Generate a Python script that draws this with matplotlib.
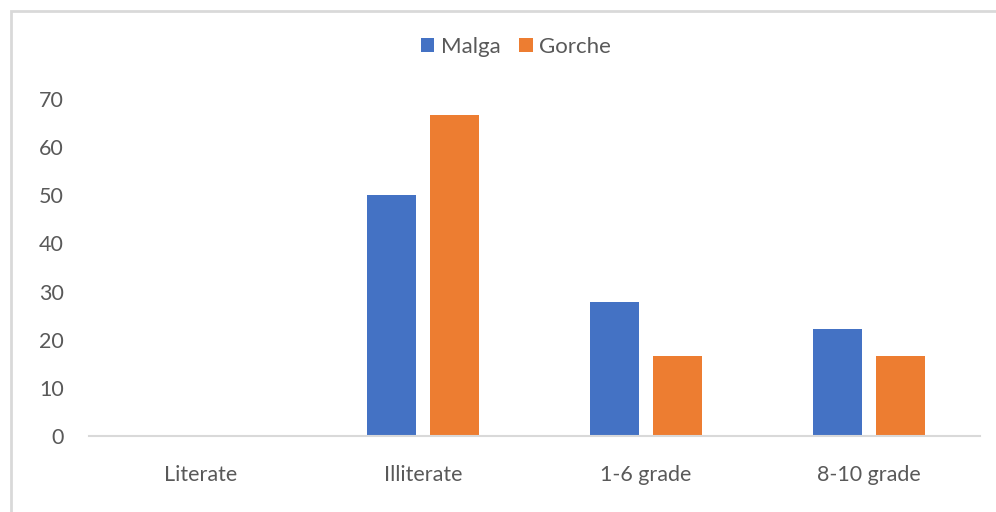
import numpy as np
import matplotlib
matplotlib.use('Agg')
import matplotlib.pyplot as plt
from matplotlib.patches import Rectangle

# data
categories = ['Literate', 'Illiterate', '1-6 grade', '8-10 grade']
malga = [0, 50, 27.8, 22.2]
gorche = [0, 66.7, 16.7, 16.7]
yticks = [0, 10, 20, 30, 40, 50, 60, 70]

blue = '#4472C4'
orange = '#ED7D31'
txt = '#595959'

plt.rcParams['font.family'] = ['Lato', 'DejaVu Sans']

fig = plt.figure(figsize=(9.96, 5.12), dpi=100)
W, H = 996, 512

# chart frame (runs off the right and bottom edges)
fig.patches.append(Rectangle((11 / W, -0.1), 1.2, 1 - 10.5 / H + 0.1,
                             transform=fig.transFigure, fill=False,
                             edgecolor='#D9D9D9', linewidth=2.0))

ax = fig.add_axes([89 / W, 1 - 436 / H, (980 - 89) / W, (436 - 99) / H])

x = np.arange(len(categories))
bw = 0.22
gap = 0.063
ax.bar(x - (bw + gap) / 2, malga, bw, color=blue, label='Malga')
ax.bar(x + (bw + gap) / 2, gorche, bw, color=orange, label='Gorche')

ax.set_xlim(-0.5, len(categories) - 0.5)
ax.set_ylim(0, 70)
ax.set_yticks(yticks)
ax.set_xticks(x)
ax.set_xticklabels(categories)

for s in ['top', 'right', 'left']:
    ax.spines[s].set_visible(False)
ax.spines['bottom'].set_color('#D9D9D9')
ax.spines['bottom'].set_linewidth(1.5)
ax.tick_params(axis='both', length=0, labelsize=15.5, colors=txt)
ax.tick_params(axis='y', pad=18)
ax.tick_params(axis='x', pad=21)

leg = fig.legend(loc='center', bbox_to_anchor=(516 / W, 1 - 47 / H), ncol=2,
                 frameon=False, fontsize=16, handlelength=0.6,
                 handleheight=0.6, handletextpad=0.3, columnspacing=0.85)
for t in leg.get_texts():
    t.set_color(txt)

fig.savefig('out.png', dpi=100)
